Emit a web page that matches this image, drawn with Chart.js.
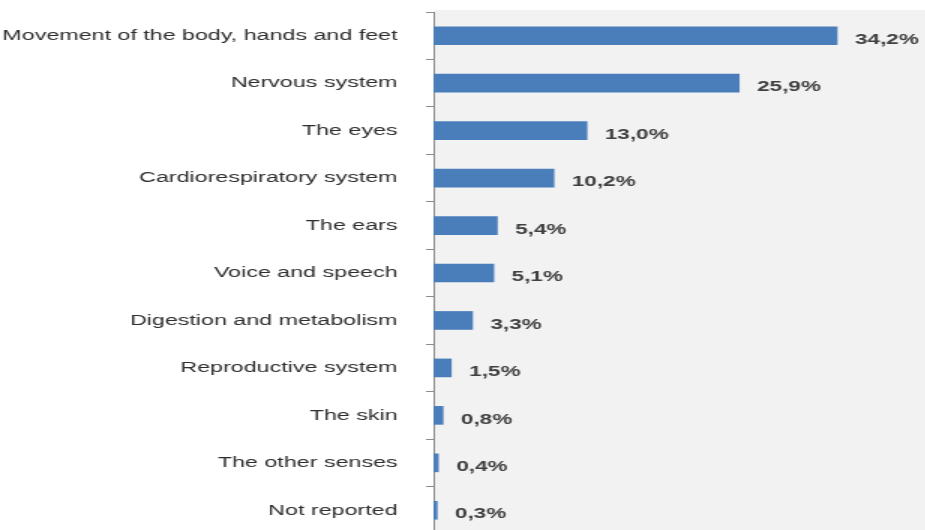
<!DOCTYPE html>
<html>
<head>
<meta charset="utf-8">
<title>Impairments by body function</title>
<script src="https://cdn.jsdelivr.net/npm/chart.js@4/dist/chart.umd.min.js"></script>
<style>
  html, body {
    margin: 0;
    padding: 0;
    background: #ffffff;
    overflow: hidden;
  }
  /* the chart is laid out narrow and widened, so the text comes out broad */
  #wrap {
    width: 617px;
    height: 534px;
    transform: scaleX(1.5);
    transform-origin: 0 0;
  }
</style>
</head>
<body>
<div id="wrap">
  <canvas id="impairmentChart" width="617" height="534"></canvas>
</div>
<script>
// Share of people by affected function (%)
const categories = [
  "Movement of the body, hands and feet",
  "Nervous system",
  "The eyes",
  "Cardiorespiratory system",
  "The ears",
  "Voice and speech",
  "Digestion and metabolism",
  "Reproductive system",
  "The skin",
  "The other senses",
  "Not reported",
];
const shares = [34.2, 25.9, 13.0, 10.2, 5.4, 5.1, 3.3, 1.5, 0.8, 0.4, 0.3];

const AXIS_LEFT = 289;

// Light gray panel behind the bars
const plotBackground = {
  id: "plotBackground",
  beforeDraw(chart) {
    const { ctx, chartArea } = chart;
    ctx.save();
    ctx.fillStyle = "#f2f2f2";
    ctx.fillRect(
      chartArea.left,
      chartArea.top - 2,
      chart.width - chartArea.left,
      chart.height - chartArea.top + 2
    );
    ctx.restore();
  },
};

// Percent labels after each bar, decimal comma
const valueLabels = {
  id: "valueLabels",
  afterDatasetsDraw(chart) {
    const { ctx } = chart;
    const meta = chart.getDatasetMeta(0);
    ctx.save();
    ctx.font = "bold 15px 'Liberation Sans', Arial, sans-serif";
    ctx.fillStyle = "#404040";
    ctx.textAlign = "left";
    ctx.textBaseline = "middle";
    meta.data.forEach((bar, i) => {
      const text = shares[i].toFixed(1).replace(".", ",") + "%";
      ctx.fillText(text, bar.x + 12, bar.y + 4);
    });
    ctx.restore();
  },
};

const ctx = document.getElementById("impairmentChart").getContext("2d");
new Chart(ctx, {
  type: "bar",
  data: {
    labels: categories,
    datasets: [
      {
        data: shares,
        backgroundColor: "#4a7ebb",
        borderWidth: 0,
        barThickness: 18,
      },
    ],
  },
  options: {
    indexAxis: "y",
    responsive: false,
    animation: false,
    layout: {
      padding: { top: 12, right: 0, bottom: 0, left: 0 },
    },
    plugins: {
      legend: { display: false },
      tooltip: { enabled: false },
    },
    scales: {
      x: {
        display: false,
        min: 0,
        max: 41.7,
      },
      y: {
        offset: true,
        afterFit(scale) {
          scale.width = AXIS_LEFT;
          // rows fill the full height, no room kept for label overhang
          scale.paddingTop = 0;
          scale.paddingBottom = 0;
        },
        grid: {
          offset: true,
          drawOnChartArea: false,
          tickLength: 5,
          color: "#8c8c8c",
        },
        border: {
          color: "#8c8c8c",
          width: 1,
        },
        ticks: {
          color: "#2e2e2e",
          padding: 19,
          font: {
            family: "'Liberation Sans', Arial, sans-serif",
            size: 15.5,
          },
        },
      },
    },
  },
  plugins: [plotBackground, valueLabels],
});
</script>
</body>
</html>
